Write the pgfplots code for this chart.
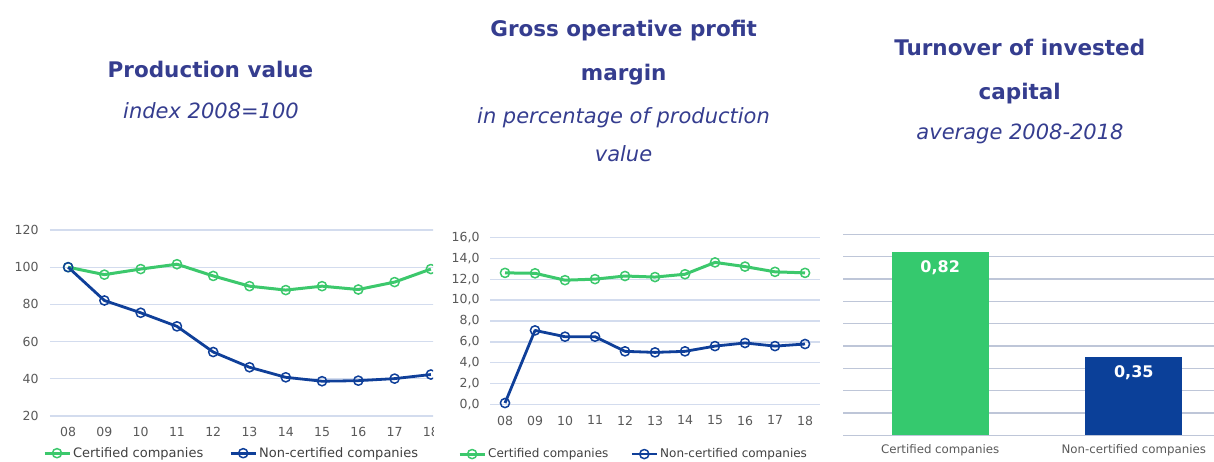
\documentclass[border=0pt]{standalone}
\usepackage{fontspec}
\setmainfont{DejaVu Sans}
\usepackage{pgfplots}
\pgfplotsset{compat=1.18}
\definecolor{ttl}{HTML}{353D8F}
\definecolor{cgreen}{HTML}{3CC86C}
\definecolor{cblue}{HTML}{0F3F99}
\definecolor{bgreen}{HTML}{35C96E}
\definecolor{bblue}{HTML}{0B4099}
\definecolor{gridc}{HTML}{D3DCEE}
\definecolor{gridb}{HTML}{BEC6D8}
\definecolor{tickc}{HTML}{595959}
\pgfplotsset{
  common/.style={
    scale only axis,
    axis line style={draw=none},
    major tick length=0pt,
    ymajorgrids,
    grid style={gridc, line width=1.2pt},
    tick label style={font=\fontsize{12.5}{14}\selectfont, text=tickc},
    /pgf/number format/assume math mode=true,
    clip=false,
  },
  gline/.style={cgreen, line width=3pt, line join=round, mark=o, mark size=4.6pt,
    mark options={fill=white, line width=1.5pt, cgreen}},
  bline/.style={cblue, line width=2.8pt, line join=round, mark=o, mark size=4.6pt,
    mark options={fill=white, line width=1.5pt, cblue}},
  leg/.style={
    legend style={draw=none, fill=none, legend columns=2,
      text=black!75,
      inner sep=0pt, row sep=0pt},
    legend cell align=left,
    legend image code/.code={\draw[mark repeat=2, mark phase=2, ##1]
      plot coordinates {(0pt,0pt) (12.5pt,0pt) (25pt,0pt)};},
  },
}
\begin{document}
\begin{tikzpicture}[x=1pt,y=1pt]
\useasboundingbox (0,0) rectangle (1214,461);
% Titles
\node[anchor=base, text=ttl, font=\fontsize{21.5}{26}\bfseries] at (210.5,383.3) {Production value};
\node[anchor=base, text=ttl, font=\fontsize{21}{26}\itshape] at (211,342.7) {index 2008=100};
\node[anchor=base, text=ttl, font=\fontsize{21.5}{26}\bfseries] at (623.7,424.3) {Gross operative profit};
\node[anchor=base, text=ttl, font=\fontsize{21.5}{26}\bfseries] at (623.7,380) {margin};
\node[anchor=base, text=ttl, font=\fontsize{21}{26}\itshape] at (623.5,337.7) {in percentage of production};
\node[anchor=base, text=ttl, font=\fontsize{21}{26}\itshape] at (623.5,299.3) {value};
\node[anchor=base, text=ttl, font=\fontsize{21.5}{26}\bfseries] at (1019.7,405.3) {Turnover of invested};
\node[anchor=base, text=ttl, font=\fontsize{21.5}{26}\bfseries] at (1019.7,361) {capital};
\node[anchor=base, text=ttl, font=\fontsize{21}{26}\itshape] at (1020,321) {average 2008-2018};

% Chart 1
\begin{scope}
\clip (0,0) rectangle (433,461);
\begin{axis}[common, leg,
  at={(50pt,45pt)}, anchor=south west,
  width=399pt, height=186pt,
  xmin=-0.5, xmax=10.5, ymin=20, ymax=120,
  ytick={20,40,60,80,100,120},
  xtick={0,...,10},
  xticklabels={08,09,10,11,12,13,14,15,16,17,18},
  yticklabel style={xshift=-8pt},
  xticklabel style={yshift=-8pt},
  legend style={at={(0.455,-0.2)}, anchor=center,
    font=\fontsize{13}{15}\selectfont,
    /tikz/every even column/.append style={column sep=24pt}},
]
\addplot[gline] coordinates {(0,100) (1,96) (2,99) (3,101.6) (4,95.3) (5,89.8) (6,87.7) (7,89.8) (8,88) (9,92) (10,99)};
\addlegendentry{Certified companies}
\addplot[bline] coordinates {(0,100) (1,82.1) (2,75.5) (3,68.2) (4,54.4) (5,46.2) (6,40.8) (7,38.7) (8,39) (9,40.1) (10,42.3)};
\addlegendentry{Non-certified companies}
\end{axis}
\end{scope}

% Chart 2
\begin{axis}[common, leg,
  at={(490pt,56.3pt)}, anchor=south west,
  width=330pt, height=167.4pt,
  xmin=-0.5, xmax=10.5, ymin=0, ymax=16,
  ytick={0,2,...,16},
  xtick={0,...,10},
  xticklabels={08,09,10,11,12,13,14,15,16,17,18},
  yticklabel style={xshift=-7pt, /pgf/number format/.cd, fixed, fixed zerofill, precision=1, use comma},
  xticklabel style={yshift=-7.5pt},
  legend style={at={(0.435,-0.295)}, anchor=center,
    font=\fontsize{12}{14}\selectfont,
    /tikz/every even column/.append style={column sep=20pt}},
]
\addplot[gline] coordinates {(0,12.6) (1,12.56) (2,11.9) (3,12.0) (4,12.3) (5,12.2) (6,12.47) (7,13.6) (8,13.2) (9,12.7) (10,12.6)};
\addlegendentry{Certified companies}
\addplot[bline] coordinates {(0,0.16) (1,7.1) (2,6.5) (3,6.5) (4,5.1) (5,5.0) (6,5.1) (7,5.6) (8,5.9) (9,5.6) (10,5.8)};
\addlegendentry{Non-certified companies}
\end{axis}

% Chart 3
\begin{axis}[common,
  at={(843.4pt,25.7pt)}, anchor=south west,
  width=387.2pt, height=201pt,
  grid style={gridb, line width=1.1pt},
  xmin=-0.5, xmax=1.5, ymin=0, ymax=0.9,
  ytick={0,0.1,0.2,0.3,0.4,0.5,0.6,0.7,0.8,0.9},
  yticklabels={},
  xtick={0,1},
  xticklabels={Certified companies, Non-certified companies},
  xticklabel style={yshift=-6pt, font=\fontsize{11.8}{14}\selectfont},
  ybar, bar width=97pt, bar shift=0pt,
  nodes near coords,
  nodes near coords style={anchor=center, yshift=-15.5pt, text=white,
    font=\fontsize{16}{18}\bfseries,
    /pgf/number format/.cd, fixed, fixed zerofill, precision=2, use comma},
]
\addplot[fill=bgreen, draw=none] coordinates {(0,0.82)};
\addplot[fill=bblue, draw=none] coordinates {(1,0.35)};
\end{axis}
\end{tikzpicture}
\end{document}
